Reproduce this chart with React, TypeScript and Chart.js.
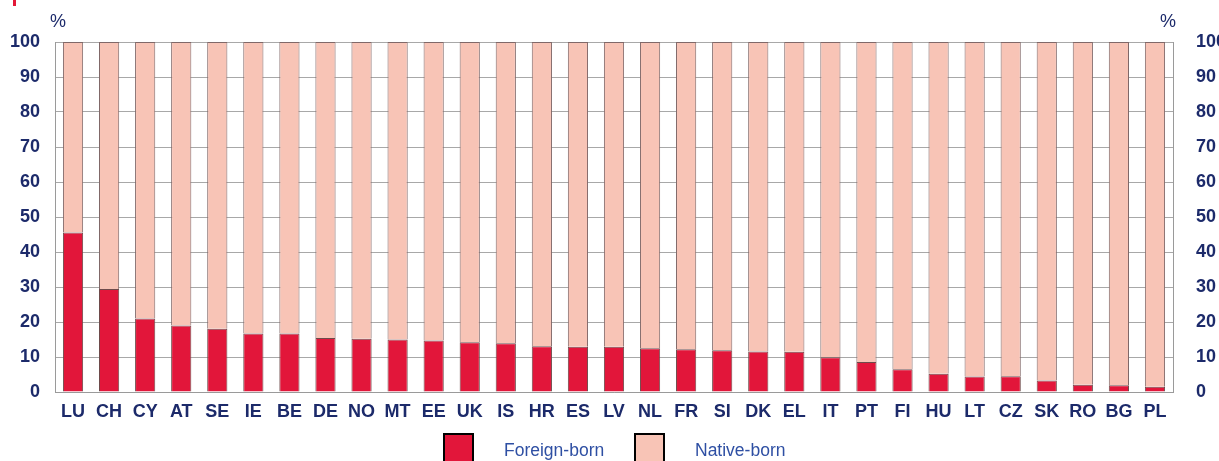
import React, { useEffect, useRef } from "react";
import { Chart, registerables } from "chart.js";

Chart.register(...registerables);

const categories = ["LU","CH","CY","AT","SE","IE","BE","DE","NO","MT","EE","UK","IS","HR","ES","LV","NL","FR","SI","DK","EL","IT","PT","FI","HU","LT","CZ","SK","RO","BG","PL"];
const foreignBorn = [45.6,29.4,21.0,19.0,18.1,16.7,16.7,15.4,15.2,15.0,14.7,14.2,13.9,13.1,12.9,12.9,12.5,12.2,11.9,11.6,11.5,9.9,8.6,6.5,5.2,4.4,4.5,3.3,2.1,1.9,1.5];
const nativeBorn = foreignBorn.map((v) => Math.round((100 - v) * 10) / 10);
const yTicks = [0,10,20,30,40,50,60,70,80,90,100];
const seriesLabels = ["Foreign-born", "Native-born"];

const NAVY = "#1c2a6a";
const FONT = "'Liberation Sans', Arial, sans-serif";

const legendPlugin = {
  id: "customLegend",
  afterDraw(chart: any) {
    const ctx = chart.ctx;
    ctx.save();
    const boxes = [443, 634];
    chart.data.datasets.forEach((ds: any, i: number) => {
      const x = boxes[i];
      const y = 433;
      ctx.fillStyle = ds.backgroundColor;
      ctx.fillRect(x, y, 31, 32);
      ctx.strokeStyle = "#000";
      ctx.lineWidth = 2;
      ctx.strokeRect(x + 1, y + 1, 29, 32);
      ctx.fillStyle = "#2e4fa3";
      ctx.font = "17.5px " + FONT;
      ctx.textBaseline = "middle";
      ctx.textAlign = "left";
      ctx.fillText(ds.label, x + 61, 451);
    });
    // percent signs
    ctx.fillStyle = NAVY;
    ctx.font = "18px " + FONT;
    ctx.textAlign = "center";
    ctx.textBaseline = "middle";
    ctx.fillText("%", 58, 22);
    ctx.fillText("%", 1168, 22);
    // red mark top-left
    ctx.fillStyle = "#e31837";
    ctx.fillRect(13, 0, 3, 6);
    ctx.restore();
  },
};

export default function App() {
  const ref = useRef<HTMLCanvasElement>(null);
  useEffect(() => {
    document.body.style.margin = "0";
    const chart = new Chart(ref.current!, {
      type: "bar",
      data: {
        labels: categories,
        datasets: [
          {
            label: seriesLabels[0],
            data: foreignBorn,
            backgroundColor: "#e2163a",
            borderColor: "#6e4b4b",
            borderWidth: 1,
            barPercentage: 0.56,
            categoryPercentage: 1,
          },
          {
            label: seriesLabels[1],
            data: nativeBorn,
            backgroundColor: "#f8c4b6",
            borderColor: "#806868",
            borderWidth: 1,
            barPercentage: 0.56,
            categoryPercentage: 1,
          },
        ],
      },
      options: {
        animation: false,
        responsive: false,
        layout: { padding: { left: 0, right: 0, top: 42, bottom: 24 } },
        plugins: { legend: { display: false }, tooltip: { enabled: false } },
        scales: {
          x: {
            stacked: true,
            grid: { display: false },
            border: { display: true, color: "#9a9a9a", width: 1 },
            ticks: {
              color: NAVY,
              font: { family: FONT, size: 18, weight: "bold" },
              padding: 1,
              maxRotation: 0,
              autoSkip: false,
            },
            afterFit(s: any) { s.height = 45; },
          },
          y: {
            stacked: true,
            position: "left",
            min: 0,
            max: 100,
            afterBuildTicks(s: any) { s.ticks = yTicks.map((v) => ({ value: v })); },
            grid: { color: "#a8a8a8", drawTicks: false },
            border: { display: true, color: "#9a9a9a" },
            ticks: {
              color: NAVY,
              font: { family: FONT, size: 18, weight: "bold" },
              padding: 15,
            },
            afterFit(s: any) { s.width = 55; },
          },
          y2: {
            position: "right",
            min: 0,
            max: 100,
            afterBuildTicks(s: any) { s.ticks = yTicks.map((v) => ({ value: v })); },
            grid: { display: false, drawTicks: false },
            border: { display: true, color: "#9a9a9a" },
            ticks: {
              color: NAVY,
              font: { family: FONT, size: 18, weight: "bold" },
              padding: 23,
            },
            afterFit(s: any) { s.width = 46; },
          },
        },
      },
      plugins: [legendPlugin],
    });
    return () => chart.destroy();
  }, []);
  return <canvas ref={ref} width={1219} height={461} style={{ display: "block" }} />;
}
